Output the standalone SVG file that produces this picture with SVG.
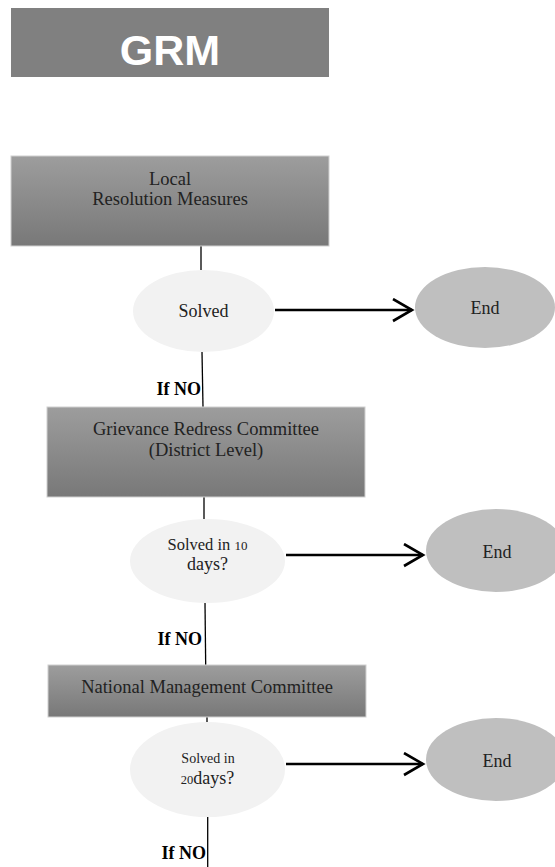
<svg xmlns="http://www.w3.org/2000/svg" width="555" height="867" viewBox="0 0 555 867">
<style>
.box{fill:url(#g);stroke:#d0d0d0;stroke-width:1}
.q{fill:#f2f2f2}
.end{fill:#bfbfbf}
.t{font-family:"Liberation Serif","Times New Roman",serif;font-size:18px;fill:#222;text-anchor:middle}
.no{font-family:"Liberation Serif","Times New Roman",serif;font-size:18px;font-weight:bold;fill:#000;text-anchor:end}
.c{stroke:#000;stroke-width:1.3;fill:none}
.a{stroke:#000;stroke-width:2.6;fill:none;marker-end:url(#ah)}
</style>
<defs>
<linearGradient id="g" x1="0" y1="0" x2="0" y2="1">
<stop offset="0" stop-color="#9d9d9d"/>
<stop offset="1" stop-color="#787878"/>
</linearGradient>
<marker id="ah" markerUnits="userSpaceOnUse" markerWidth="24" markerHeight="26" refX="21" refY="12" orient="auto">
<path d="M2,1 L21,12 L2,23" fill="none" stroke="#000" stroke-width="2.6"/>
</marker>
</defs>
<rect width="555" height="867" fill="#fff"/>
<g id="header">
<rect x="11" y="8" width="318" height="69" fill="#808080"/>
<text x="170" y="65" font-family="Liberation Sans,Arial,sans-serif" font-size="43" font-weight="bold" fill="#fff" text-anchor="middle">GRM</text>
</g>
<g id="connectors">
<line class="c" x1="201" y1="246" x2="201" y2="270"/>
<line class="c" x1="202" y1="352" x2="203" y2="407"/>
<line class="c" x1="204" y1="497" x2="204" y2="519"/>
<line class="c" x1="205" y1="603" x2="205.7" y2="665"/>
<line class="c" x1="207" y1="717" x2="207" y2="722"/>
<line class="c" x1="207.7" y1="817" x2="207.7" y2="867"/>
<line class="a" x1="275" y1="310" x2="412" y2="310"/>
<line class="a" x1="286" y1="555" x2="423" y2="555"/>
<line class="a" x1="286" y1="764" x2="423" y2="764"/>
<text class="no" x="201" y="395">If NO</text>
<text class="no" x="202" y="645">If NO</text>
<text class="no" x="206" y="859">If NO</text>
</g>
<g id="local">
<rect class="box" x="11" y="156" width="318" height="90"/>
<text class="t" x="170" y="185" style="font-size:18.5px">Local</text>
<text class="t" x="170" y="205" style="font-size:18.5px">Resolution Measures</text>
</g>
<g id="solved1">
<ellipse class="q" cx="203.5" cy="311" rx="70.5" ry="41"/>
<text class="t" x="203.5" y="317">Solved</text>
</g>
<g id="end1">
<ellipse class="end" cx="485" cy="307.5" rx="70" ry="40.5"/>
<text class="t" x="485" y="314">End</text>
</g>
<g id="grc">
<rect class="box" x="47" y="407" width="318" height="90"/>
<text class="t" x="206" y="435" style="font-size:18.5px">Grievance Redress Committee</text>
<text class="t" x="206" y="456" style="font-size:18.5px">(District Level)</text>
</g>
<g id="solved2">
<ellipse class="q" cx="207.5" cy="561" rx="77.5" ry="42"/>
<text class="t" x="207.5" y="550" style="font-size:16.5px">Solved in <tspan style="font-size:13px">10</tspan></text>
<text class="t" x="207.5" y="570">days?</text>
</g>
<g id="end2">
<ellipse class="end" cx="496" cy="550.5" rx="70" ry="41.5"/>
<text class="t" x="497" y="558">End</text>
</g>
<g id="nmc">
<rect class="box" x="48" y="665" width="318" height="52"/>
<text class="t" x="207" y="693" style="font-size:18.5px">National Management Committee</text>
</g>
<g id="solved3">
<ellipse class="q" cx="207.5" cy="769.5" rx="77.5" ry="47.5"/>
<text class="t" x="208" y="763" style="font-size:14px">Solved in</text>
<text class="t" x="207.5" y="784"><tspan style="font-size:12.5px">20</tspan>days?</text>
</g>
<g id="end3">
<ellipse class="end" cx="496" cy="759.5" rx="70" ry="41.5"/>
<text class="t" x="497" y="767">End</text>
</g>
</svg>
